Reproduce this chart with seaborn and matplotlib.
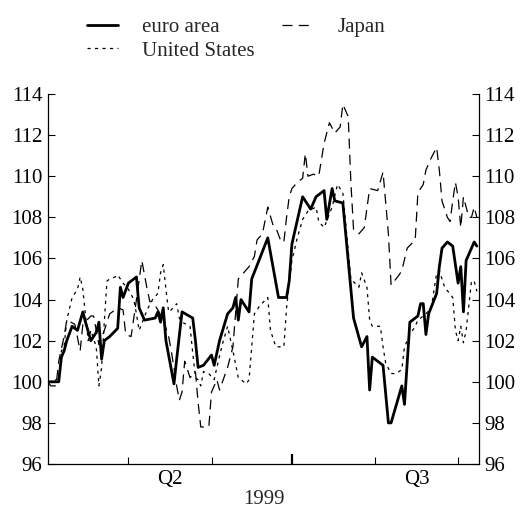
import matplotlib
matplotlib.use("Agg")
import matplotlib.pyplot as plt
import seaborn as sns
import pandas as pd

# Day offsets counted from 1 April 1999, and index values
euro_days = [0, 4, 5, 6, 7, 9, 11, 13, 14, 16, 18, 19, 20, 21, 23, 26, 27, 28, 30, 32,
             33, 34, 36, 40, 41, 42, 43, 44, 47, 48, 50, 54, 55, 56, 58, 61, 62, 64, 67, 69,
             70, 71, 72, 75, 76, 82, 86, 89, 90, 91, 95, 98, 100, 103, 104, 106, 107, 110, 114, 117,
             119, 120, 121, 125, 127, 128, 132, 133, 135, 138, 139, 140, 141, 142, 145, 146, 147, 149, 151, 153,
             154, 155, 156, 159, 160]
euro_vals = [100.0, 100.0, 101.2, 101.5, 102.0, 102.7, 102.5, 103.4, 102.9, 102.0, 102.4, 102.9, 101.1, 102.0, 102.2, 102.6, 104.6, 104.1, 104.8, 105.0,
             105.1, 103.6, 103.0, 103.1, 103.4, 102.9, 103.6, 102.0, 99.9, 101.1, 103.4, 103.1, 102.0, 100.7, 100.8, 101.3, 100.8, 102.0, 103.3, 103.6,
             104.1, 103.0, 104.0, 103.4, 105.0, 107.0, 104.1, 104.1, 104.9, 106.7, 109.0, 108.4, 109.0, 109.3, 107.9, 109.4, 108.8, 108.7, 103.1, 101.7,
             102.2, 99.6, 101.2, 100.8, 98.0, 98.0, 99.8, 98.9, 102.9, 103.2, 103.8, 103.8, 102.3, 103.3, 104.3, 105.6, 106.5, 106.8, 106.6, 104.8,
             105.6, 103.4, 105.9, 106.8, 106.6]

us_days = [0, 2, 4, 5, 6, 7, 9, 11, 12, 13, 14, 15, 16, 18, 19, 20, 21, 22, 23, 25,
           26, 28, 30, 32, 33, 34, 37, 39, 41, 42, 43, 44, 45, 46, 48, 49, 50, 53, 54, 55,
           56, 57, 58, 60, 62, 63, 65, 67, 69, 71, 74, 75, 77, 79, 82, 83, 85, 88, 89, 91,
           93, 95, 97, 100, 101, 103, 106, 108, 110, 112, 113, 116, 117, 119, 120, 121, 124, 125, 126, 128,
           130, 132, 133, 135, 137, 138, 141, 143, 145, 146, 148, 151, 152, 153, 154, 155, 156, 158, 159, 160]
us_vals = [100.0, 100.0, 100.2, 101.5, 101.7, 103.0, 104.1, 104.5, 105.1, 104.5, 103.2, 102.0, 102.5, 101.7, 99.8, 100.7, 102.9, 104.9, 105.0, 105.1,
           105.2, 104.8, 104.5, 104.0, 103.3, 102.5, 103.5, 104.0, 104.3, 105.3, 105.7, 104.5, 103.4, 103.5, 103.8, 103.1, 102.9, 102.7, 101.4, 100.2,
           100.1, 99.8, 100.5, 100.4, 100.1, 100.7, 101.8, 102.7, 101.5, 100.2, 99.9, 100.1, 103.3, 103.7, 104.1, 102.5, 101.7, 101.7, 103.6, 105.9,
           107.0, 107.9, 108.3, 108.5, 107.8, 107.5, 108.5, 109.6, 109.2, 106.4, 105.0, 104.6, 105.3, 104.6, 103.0, 102.7, 102.7, 101.7, 100.9, 100.4,
           100.4, 100.6, 101.7, 102.3, 102.7, 103.0, 103.3, 103.6, 105.3, 105.4, 104.6, 104.1, 102.5, 102.0, 102.7, 101.9, 102.5, 104.9, 104.9, 104.4]

japan_days = [0, 1, 3, 4, 6, 7, 10, 12, 13, 16, 17, 19, 21, 23, 26, 28, 29, 31, 33, 35,
              37, 38, 39, 41, 43, 45, 46, 48, 49, 50, 51, 53, 55, 56, 57, 60, 61, 63, 64, 67,
              69, 71, 73, 75, 77, 78, 80, 82, 84, 85, 87, 88, 89, 90, 91, 93, 95, 96, 97, 99,
              101, 103, 105, 107, 109, 110, 112, 113, 114, 116, 118, 120, 123, 125, 127, 128, 131, 132, 134, 137,
              138, 140, 141, 143, 145, 146, 147, 149, 150, 151, 152, 153, 154, 155, 157, 158, 159, 160]
japan_vals = [100.0, 99.8, 99.8, 101.0, 102.2, 103.0, 102.8, 101.5, 102.8, 103.2, 103.2, 101.8, 102.5, 103.3, 103.6, 103.5, 102.3, 102.2, 104.0, 105.9,
              104.5, 103.9, 103.9, 103.5, 103.0, 102.2, 101.5, 99.8, 99.1, 99.5, 101.0, 100.2, 100.5, 99.0, 97.8, 97.8, 99.5, 100.1, 99.6, 100.7,
              101.7, 105.0, 105.3, 105.6, 106.1, 106.9, 107.2, 108.5, 107.6, 107.5, 106.8, 106.8, 108.0, 109.0, 109.4, 109.7, 109.9, 111.1, 110.0, 110.1,
              110.0, 111.6, 112.6, 112.1, 112.4, 113.5, 112.9, 109.7, 107.4, 107.2, 107.5, 109.4, 109.3, 110.2, 107.2, 104.7, 105.2, 105.4, 106.5, 106.9,
              109.2, 109.6, 110.3, 110.9, 111.4, 110.3, 108.8, 108.0, 107.8, 108.8, 109.7, 109.0, 107.5, 109.0, 108.0, 108.0, 108.5, 108.0]

series_names = ["euro area", "United States", "Japan"]
month_starts = [30, 61, 91, 122, 153]          # May, Jun, Jul, Aug, Sep 1
quarter_mid = [45.5, 137.5]
quarter_labels = ["Q2", "Q3"]
year_label = "1999"
y_ticks = list(range(96, 115, 2))

sns.set_style("ticks")
plt.rcParams["font.family"] = ["Liberation Serif", "DejaVu Serif"]
plt.rcParams["font.size"] = 15

fig = plt.figure(figsize=(5.25, 5.09), dpi=100)
ax = fig.add_axes([48 / 525, 45 / 509, 431 / 525, 370 / 509])

df_e = pd.DataFrame({"day": euro_days, "value": euro_vals})
df_u = pd.DataFrame({"day": us_days, "value": us_vals})
df_j = pd.DataFrame({"day": japan_days, "value": japan_vals})

sns.lineplot(data=df_e, x="day", y="value", ax=ax, color="black", lw=2.0,
             label=series_names[0])
sns.lineplot(data=df_u, x="day", y="value", ax=ax, color="black", lw=0.9,
             linestyle=(0, (2.5, 3.5)), label=series_names[1])
sns.lineplot(data=df_j, x="day", y="value", ax=ax, color="black", lw=0.9,
             linestyle=(0, (8, 5)), label=series_names[2])

ax.set_xlim(0, 160.8)
ax.set_ylim(96, 114)
ax.set_yticks(y_ticks)
ax.set_yticklabels([str(v) for v in y_ticks])

ax.set_xticks(month_starts)
ax.set_xticklabels([""] * len(month_starts))
ax.set_xticks(quarter_mid, minor=True)
ax.set_xticklabels(quarter_labels, minor=True)
ax.tick_params(axis="x", which="major", direction="in", length=5, width=0.8, colors="black")
ax.tick_params(axis="x", which="minor", length=0, pad=4, labelsize=15, labelcolor="black")
for t, d in zip(ax.xaxis.get_major_ticks(), month_starts):
    if d == 91:
        t.tick1line.set_markersize(7)
        t.tick1line.set_markeredgewidth(1.6)

ax.tick_params(axis="y", which="major", direction="in", length=5, width=0.8,
               left=True, right=True, labelleft=True, labelright=True,
               labelsize=15, colors="black", pad=4)

for side in ["left", "right", "bottom"]:
    ax.spines[side].set_visible(True)
    ax.spines[side].set_color("black")
    ax.spines[side].set_linewidth(0.9)
ax.spines["top"].set_visible(False)

ax.set_xlabel(year_label, fontsize=15, labelpad=1)
ax.set_ylabel("")

leg = ax.legend(loc="lower left", bbox_to_anchor=(39 / 431, 1.09), ncol=2, frameon=False,
                handlelength=1.5, handletextpad=1.15, columnspacing=1.3,
                labelspacing=0.2, fontsize=15, borderaxespad=0, borderpad=0)

fig.savefig("out.png", dpi=100)
